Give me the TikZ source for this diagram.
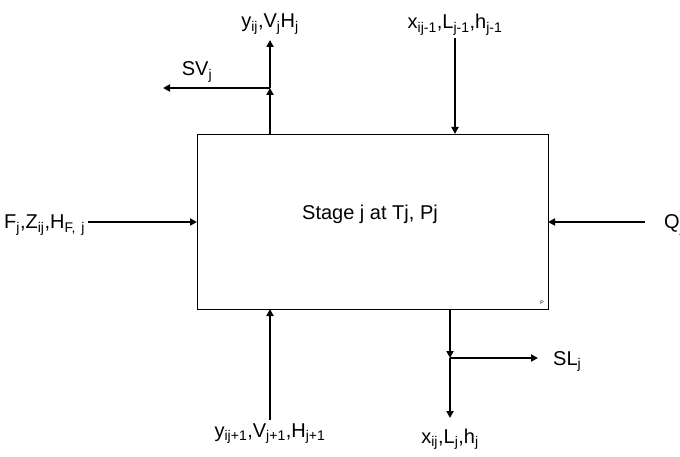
\documentclass[tikz,border=0pt]{standalone}
\usepackage{fontspec}
\setmainfont{Liberation Sans}
\usepackage{tikz}
\usetikzlibrary{arrows.meta,positioning,calc}
\newcommand{\sbs}[1]{\textsubscript{#1}}
\tikzset{
  stagebox/.style={draw=black,line width=0.8pt,minimum width=351pt,
                   minimum height=175pt,inner sep=0pt},
  flow/.style={-{Triangle[length=7pt,width=7pt]},line width=2pt,draw=black},
  lbl/.style={font=\fontsize{20}{24}\selectfont,inner sep=0pt,anchor=base}
}
\begin{document}
\begin{tikzpicture}[x=1pt,y=-1pt]
    \path[use as bounding box] (0,0) rectangle (680,457);
    % the stage
    \node[stagebox] (stage) at (372.5,221.5) {};
    \node[lbl] (stagetxt) at (370,219) {Stage j at Tj, Pj};
    \node[font=\fontsize{5}{6}\selectfont,inner sep=0pt] (pmark) at (542,303) {P};

    % vapour leaving at the top
    \coordinate (vout) at (270,134);
    \coordinate (vjun) at (270,88);
    \coordinate (vtop) at (270,40);
    \coordinate (svend) at (163,88);
    \draw[flow] (vout) -- (vjun);
    \draw[flow] (vjun) -- (vtop);
    \draw[flow] (vjun) -- (svend);
    \node[lbl] (vlab) at (270,28) {y\sbs{ij},V\sbs{j}H\sbs{j}};
    \node[lbl] (svlab) at (197,76) {SV\sbs{j}};

    % liquid entering at the top
    \coordinate (lstart) at (455,38);
    \coordinate (lin) at (455,134);
    \draw[flow] (lstart) -- (lin);
    \node[lbl] (llab) at (455,29) {x\sbs{ij-1},L\sbs{j-1},h\sbs{j-1}};

    % feed and heat
    \coordinate (fstart) at (88,222);
    \coordinate (fin) at (197,222);
    \draw[flow] (fstart) -- (fin);
    \node[lbl,anchor=base west] (flab) at (4,229)
      {F\sbs{j},Z\sbs{ij},H\sbs{F,\hspace{6pt}j}};
    \coordinate (qstart) at (645,222);
    \coordinate (qin) at (548,222);
    \draw[flow] (qstart) -- (qin);
    \node[lbl,anchor=base west] (qlab) at (664,229) {Q\sbs{j}};

    % vapour entering at the bottom
    \coordinate (vbstart) at (270,420);
    \coordinate (vbin) at (270,309);
    \draw[flow] (vbstart) -- (vbin);
    \node[lbl] (vblab) at (270,437) {y\sbs{ij+1},V\sbs{j+1},H\sbs{j+1}};

    % liquid leaving at the bottom
    \coordinate (lout) at (450,309);
    \coordinate (ljun) at (450,358);
    \coordinate (lbot) at (450,418);
    \coordinate (slend) at (538,358);
    \draw[flow] (lout) -- (ljun);
    \draw[flow] (ljun) -- (lbot);
    \draw[flow] (ljun) -- (slend);
    \node[lbl,anchor=base west] (sllab) at (553,365) {SL\sbs{j}};
    \node[lbl] (lblab) at (450,443) {x\sbs{ij},L\sbs{j},h\sbs{j}};
\end{tikzpicture}
\end{document}
